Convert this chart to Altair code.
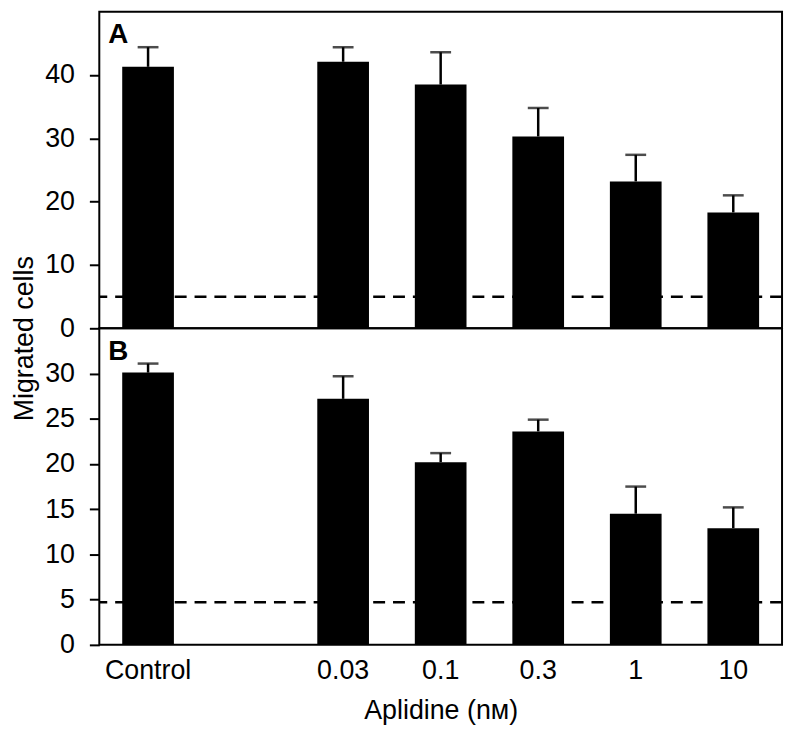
import altair as alt
import pandas as pd

# x slots (one empty slot between Control and the doses)
categories = ["Control", " ", "0.03", "0.1", "0.3", "1", "10"]
bar_cats = ["Control", "0.03", "0.1", "0.3", "1", "10"]

# Panel A
a_mean = [41.3, 42.1, 38.5, 30.3, 23.2, 18.3]
a_err = [3.1, 2.3, 5.1, 4.5, 4.2, 2.7]
a_base = 5.0
a_ticks = [0, 10, 20, 30, 40]
a_max = 50

# Panel B
b_mean = [30.1, 27.2, 20.2, 23.6, 14.5, 12.9]
b_err = [1.0, 2.5, 1.0, 1.3, 3.0, 2.3]
b_base = 4.7
b_ticks = [0, 5, 10, 15, 20, 25, 30]
b_max = 35

W = 688
H = 319
FONT = "Liberation Sans"


def panel(mean, err, base, ticks, ymax, letter, first):
    df = pd.DataFrame({
        "cat": bar_cats,
        "mean": mean,
        "upper": [m + e for m, e in zip(mean, err)],
    })
    base_df = pd.DataFrame({"base": [base]})
    xscale = alt.Scale(domain=categories, paddingInner=0.47, paddingOuter=0.235)
    if first:
        xaxis = None
        yaxis = alt.Axis(values=ticks, title="Migrated cells", titleY=H + 10, titleX=-75,
                         titleAngle=-90, titleAlign="center", titleBaseline="middle",
                         titleFontSize=27)
    else:
        xaxis = alt.Axis(title="Aplidine (nᴍ)", ticks=False, domain=False, labelAngle=0,
                         labelPadding=13, titlePadding=14, titleFontSize=27,
                         labelFontSize=27)
        yaxis = alt.Axis(values=ticks, title=None)

    x = alt.X("cat:N", scale=xscale, axis=xaxis)
    yscale = alt.Scale(domain=[0, ymax], nice=False)

    dashed = alt.Chart(base_df).mark_rule(
        color="black", strokeWidth=2.5, strokeDash=[12, 8]
    ).encode(y=alt.Y("base:Q", scale=yscale, axis=yaxis))

    bars = alt.Chart(df).mark_bar(color="black").encode(
        x=x, y=alt.Y("mean:Q", scale=yscale, axis=yaxis)
    )
    stems = alt.Chart(df).mark_rule(color="black", strokeWidth=2.5).encode(
        x=x, y="mean:Q", y2="upper:Q"
    )
    caps = alt.Chart(df).mark_tick(color="black", size=21, thickness=2.5,
                                   orient="horizontal").encode(
        x=x, y="upper:Q"
    )
    label = alt.Chart(base_df).mark_text(
        text=letter, font=FONT, fontSize=28, fontWeight="bold",
        align="left", baseline="alphabetic", color="black"
    ).encode(x=alt.value(9), y=alt.value(32))

    return alt.layer(dashed, bars, stems, caps, label).properties(width=W, height=H)


top = panel(a_mean, a_err, a_base, a_ticks, a_max, "A", True)
bottom = panel(b_mean, b_err, b_base, b_ticks, b_max, "B", False)

chart = alt.vconcat(top, bottom, spacing=0, bounds="flush").properties(
    padding={"left": 2, "top": 0, "right": 2, "bottom": 0}
).configure_view(
    stroke="black", strokeWidth=2
).configure_axis(
    labelFont=FONT, titleFont=FONT, labelFontSize=27, titleFontSize=27,
    labelColor="black", titleColor="black", tickColor="black",
    tickSize=10, tickWidth=2, labelPadding=15, domain=False, grid=False,
    titleFontWeight="normal"
)

chart.save("out.html", embed_options={"renderer": "svg", "actions": False})
